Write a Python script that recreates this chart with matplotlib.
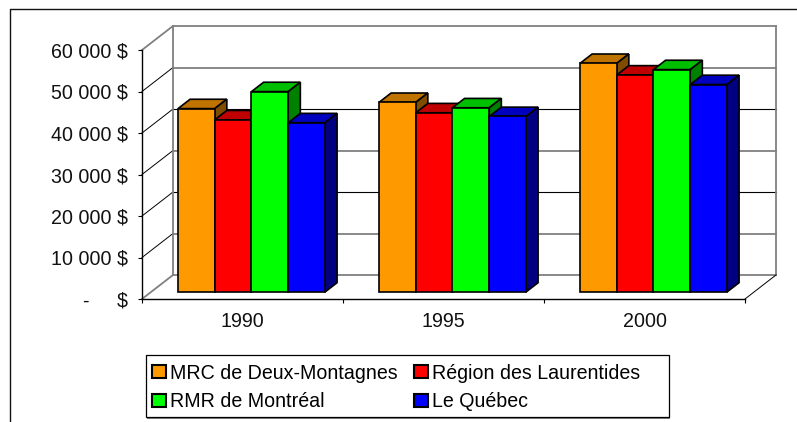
import matplotlib
matplotlib.use("Agg")
import matplotlib.pyplot as plt
from matplotlib.patches import Polygon, Patch, Rectangle
from matplotlib.lines import Line2D

plt.rcParams['font.family'] = ['Liberation Sans', 'DejaVu Sans']

years = ["1990", "1995", "2000"]
series_names = ["MRC de Deux-Montagnes", "Région des Laurentides", "RMR de Montréal", "Le Québec"]
mrc = [44200, 45700, 55100]
laurentides = [41500, 43200, 52300]
rmr = [48300, 44400, 53600]
quebec = [40800, 42300, 50000]
y_ticks = [0, 10000, 20000, 30000, 40000, 50000, 60000]
y_labels = ["-     $", "10 000 $", "20 000 $", "30 000 $", "40 000 $", "50 000 $", "60 000 $"]

faces = ["#FF9900", "#FF0000", "#00FF00", "#0000FF"]
tops = ["#BF7300", "#BF0000", "#00BF00", "#0000BF"]
sides = ["#804D00", "#800000", "#008000", "#000080"]
grid_colors = ["#808080", "#808080", "#000000", "#808080", "#000000", "#808080", "#808080"]
side_colors = ["#808080", "#000000", "#000000", "#000000", "#000000", "#000000", "#808080"]

W, H = 797, 422
fig = plt.figure(figsize=(W / 100, H / 100), dpi=100)
ax = fig.add_axes([142 / W, 1 - 299 / H, 603 / W, 249 / H])
ax.set_xlim(0, 3)
ax.set_ylim(0, 60000)
ax.patch.set_alpha(0)
for s in ("top", "right"):
    ax.spines[s].set_visible(False)
ax.spines["left"].set_linewidth(1)
ax.spines["bottom"].set_linewidth(1)

DX = 31 / 201      # wall depth, category units
DY = 24 * 60000 / 249  # wall depth, value units


def p(x, y, d):
    """Project a point at depth fraction d (0 front, 1 back)."""
    return (x + DX * d, y + DY * d)


# Walls and gridlines
for v, gc, sc in zip(y_ticks, grid_colors, side_colors):
    lw = 1.3 if gc == "#808080" else 0.8
    ax.add_line(Line2D(*zip(p(0, v, 1), p(3, v, 1)), color=gc, lw=lw, clip_on=False, zorder=1))
    ax.add_line(Line2D(*zip(p(0, v, 0), p(0, v, 1)), color=sc, lw=1.3 if sc == "#808080" else 0.7,
                       clip_on=False, zorder=1))
ax.add_line(Line2D(*zip(p(0, 0, 1), p(0, 60000, 1)), color="#808080", lw=1.3, clip_on=False, zorder=1))
ax.add_line(Line2D(*zip(p(3, 0, 1), p(3, 60000, 1)), color="#808080", lw=1.3, clip_on=False, zorder=1))
ax.add_line(Line2D(*zip(p(3, 0, 0), p(3, 0, 1)), color="#000000", lw=0.7, clip_on=False, zorder=1))

# Bars
BAR_W = 147 / 4 / 201
D0, D1 = 0.29, 0.68
values = [mrc, laurentides, rmr, quebec]
z = 3
for c in range(len(years)):
    start = c + 0.5 - 2 * BAR_W
    for k, vals in enumerate(values):
        x0, x1, v = start + k * BAR_W, start + (k + 1) * BAR_W, vals[c]
        top = [p(x0, v, D0), p(x1, v, D0), p(x1, v, D1), p(x0, v, D1)]
        side = [p(x1, 0, D0), p(x1, 0, D1), p(x1, v, D1), p(x1, v, D0)]
        front = [p(x0, 0, D0), p(x1, 0, D0), p(x1, v, D0), p(x0, v, D0)]
        for pts, col in ((top, tops[k]), (side, sides[k]), (front, faces[k])):
            ax.add_patch(Polygon(pts, closed=True, facecolor=col, edgecolor="black",
                                 lw=1.2, joinstyle="miter", clip_on=False, zorder=z))
            z += 1

# Axes
FS = 14.15
ax.set_yticks(y_ticks)
ax.set_yticklabels(y_labels, fontsize=FS, color="#111111")
ax.set_xticks([0, 1, 2, 3])
ax.set_xticklabels([])
ax.set_xticks([0.5, 1.5, 2.5], labels=years, minor=True, fontsize=FS, color="#111111")
ax.tick_params(axis="x", which="minor", length=0, pad=9.5)
ax.tick_params(axis="x", which="major", length=3.2, width=0.8)
ax.tick_params(axis="y", length=3.2, width=0.8, pad=7.2)

# Outer frame (top and left only)
fig.add_artist(Line2D([9.5 / W, 9.5 / W, 1], [0, 1 - 9 / H, 1 - 9 / H], color="#111111", lw=1.0))

# Legend frame with its soft lower shadow
fig.add_artist(Rectangle((147 / W, 1 - 418.5 / H), 523 / W, 62 / H, transform=fig.transFigure,
                         facecolor="#808080", edgecolor="none"))
fig.add_artist(Rectangle((146 / W, 1 - 417 / H), 523 / W, 62 / H, transform=fig.transFigure,
                         facecolor="white", edgecolor="black", lw=0.9))

# Legend, filled row by row
order = [0, 2, 1, 3]
handles = [Patch(facecolor=faces[i], edgecolor="black", lw=1.5) for i in order]
labels = [series_names[i] for i in order]
leg = fig.legend(handles, labels, ncol=2, fontsize=FS, loc="center left",
                 bbox_to_anchor=(146.5 / W, 1 - 387.5 / H), bbox_transform=fig.transFigure,
                 frameon=False, borderaxespad=0,
                 borderpad=0.3, handlelength=0.7, handleheight=0.68, handletextpad=0.22,
                 columnspacing=0.83, labelspacing=0.5)
leg.set_zorder(5)

fig.savefig("out.png", dpi=100)
